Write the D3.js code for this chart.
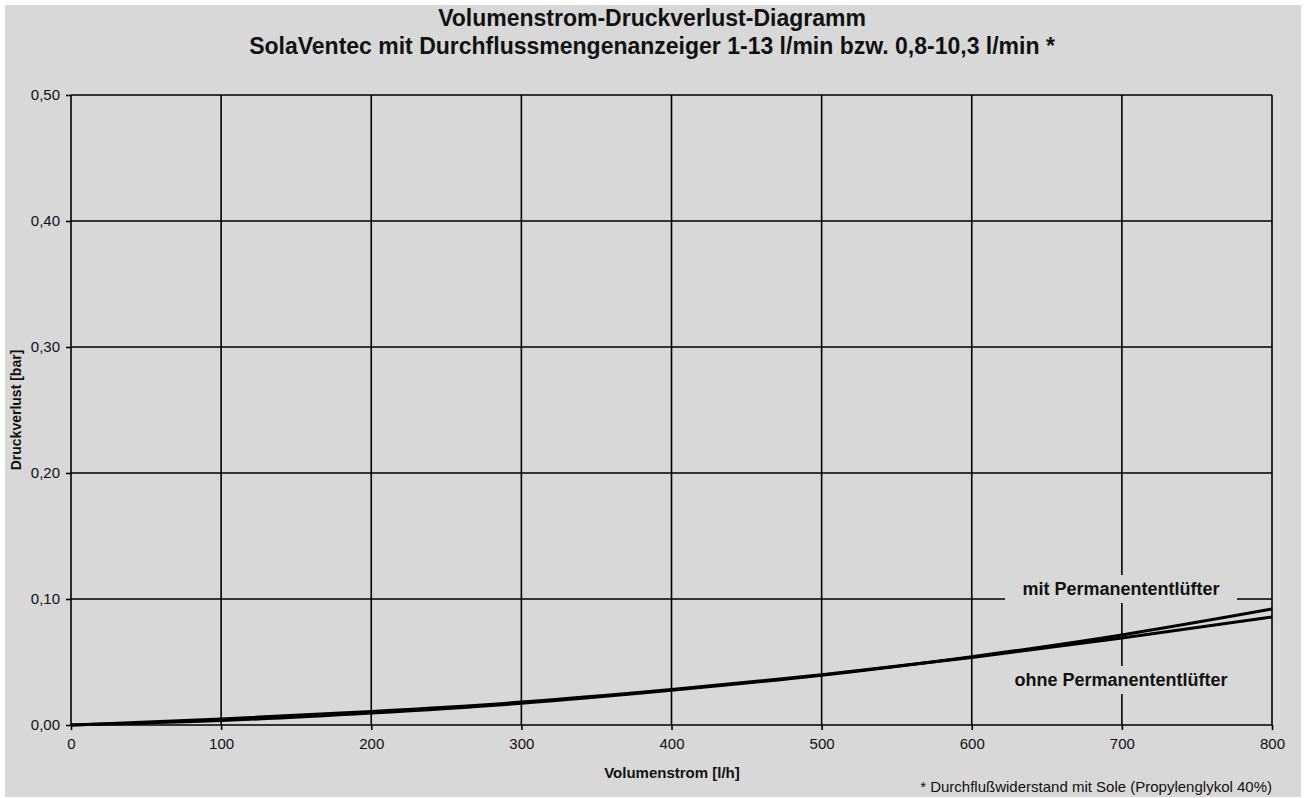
<!DOCTYPE html>
<html lang="de">
<head>
<meta charset="UTF-8">
<script src="https://cdnjs.cloudflare.com/ajax/libs/d3/7.8.5/d3.min.js"></script>
<title>Volumenstrom-Druckverlust-Diagramm</title>
<style>
    body { margin: 0; background: #fff; }
    svg { display: block; font-family: "Liberation Sans", Arial, Helvetica, sans-serif; }
</style>
</head>
<body>
<div id="chart"></div>
<script>
    // data
    const flow = [0, 100, 200, 300, 400, 500, 600, 700, 800];           // l/h
    const mitEntluefter = [0, 0.0035, 0.0095, 0.0172, 0.0275, 0.0395, 0.0542, 0.0715, 0.0920];
    const ohneEntluefter = [0, 0.0048, 0.0108, 0.0182, 0.0282, 0.0398, 0.0535, 0.0690, 0.0858];
    const xTicks = [0, 100, 200, 300, 400, 500, 600, 700, 800];
    const yTicks = [0, 0.1, 0.2, 0.3, 0.4, 0.5];
    const titleLines = ["Volumenstrom-Druckverlust-Diagramm",
        "SolaVentec mit Durchflussmengenanzeiger 1-13 l/min bzw. 0,8-10,3 l/min *"];

    const W = 1304, H = 798;
    const plot = {left: 71, right: 1272, top: 95, bottom: 725};

    const svg = d3.select("#chart").append("svg")
        .attr("width", W).attr("height", H);

    // grey panel
    svg.append("rect")
        .attr("x", 5).attr("y", 5)
        .attr("width", 1296).attr("height", 792)
        .attr("fill", "#d8d8d8");

    const x = d3.scaleLinear().domain([0, 800]).range([plot.left, plot.right]);
    const y = d3.scaleLinear().domain([0, 0.5]).range([plot.bottom, plot.top]);
    const fmt = d => d3.format(".2f")(d).replace(".", ",");

    // grid
    svg.append("g").selectAll("line").data(xTicks).join("line")
        .attr("x1", d => x(d)).attr("x2", d => x(d))
        .attr("y1", plot.top).attr("y2", plot.bottom)
        .attr("stroke", "#000").attr("stroke-width", 1.6);
    svg.append("g").selectAll("line").data(yTicks).join("line")
        .attr("x1", plot.left).attr("x2", plot.right)
        .attr("y1", d => y(d)).attr("y2", d => y(d))
        .attr("stroke", "#000").attr("stroke-width", 1.6);

    // axes
    const xAxis = svg.append("g")
        .attr("transform", `translate(0,${plot.bottom})`)
        .call(d3.axisBottom(x).tickValues(xTicks).tickSize(5).tickPadding(8).tickFormat(d3.format("d")));
    const yAxis = svg.append("g")
        .attr("transform", `translate(${plot.left},0)`)
        .call(d3.axisLeft(y).tickValues(yTicks).tickSize(5).tickPadding(6).tickFormat(fmt));
    [xAxis, yAxis].forEach(a => {
        a.select(".domain").remove();
        a.selectAll(".tick line").attr("stroke", "#000").attr("stroke-width", 1.6);
        a.selectAll("text").attr("font-size", 15).attr("fill", "#111")
            .attr("font-family", "'Liberation Sans', Arial, sans-serif");
    });

    // curves
    const line = d3.line()
        .x((d, i) => x(flow[i]))
        .y(d => y(d))
        .curve(d3.curveMonotoneX);
    [mitEntluefter, ohneEntluefter].forEach(s => {
        svg.append("path")
            .attr("d", line(s))
            .attr("fill", "none")
            .attr("stroke", "#000")
            .attr("stroke-width", 3);
    });

    // labels with grey boxes over the grid
    const labels = [
        {text: "mit Permanententlüfter", cx: 1121, cy: 589, w: 232},
        {text: "ohne Permanententlüfter", cx: 1121, cy: 680, w: 244}
    ];
    labels.forEach(l => {
        svg.append("rect")
            .attr("x", l.cx - l.w / 2).attr("y", l.cy - 14)
            .attr("width", l.w).attr("height", 28)
            .attr("fill", "#d8d8d8");
        svg.append("text")
            .attr("x", l.cx).attr("y", l.cy + 6)
            .attr("text-anchor", "middle")
            .attr("font-size", 18).attr("font-weight", "bold")
            .attr("fill", "#111")
            .text(l.text);
    });

    // titles
    titleLines.forEach((t, i) => {
        svg.append("text")
            .attr("x", 652).attr("y", 26 + i * 28)
            .attr("text-anchor", "middle")
            .attr("font-size", 23).attr("font-weight", "bold")
            .attr("fill", "#111")
            .text(t);
    });

    svg.append("text")
        .attr("x", 672).attr("y", 778)
        .attr("text-anchor", "middle")
        .attr("font-size", 15).attr("font-weight", "bold")
        .attr("fill", "#111")
        .text("Volumenstrom [l/h]");

    svg.append("text")
        .attr("transform", "translate(21,410) rotate(-90)")
        .attr("text-anchor", "middle")
        .attr("font-size", 14).attr("font-weight", "bold")
        .attr("fill", "#111")
        .text("Druckverlust [bar]");

    svg.append("text")
        .attr("x", 1272).attr("y", 792)
        .attr("text-anchor", "end")
        .attr("font-size", 15)
        .attr("fill", "#111")
        .text("* Durchflußwiderstand mit Sole (Propylenglykol 40%)");
</script>
</body>
</html>
